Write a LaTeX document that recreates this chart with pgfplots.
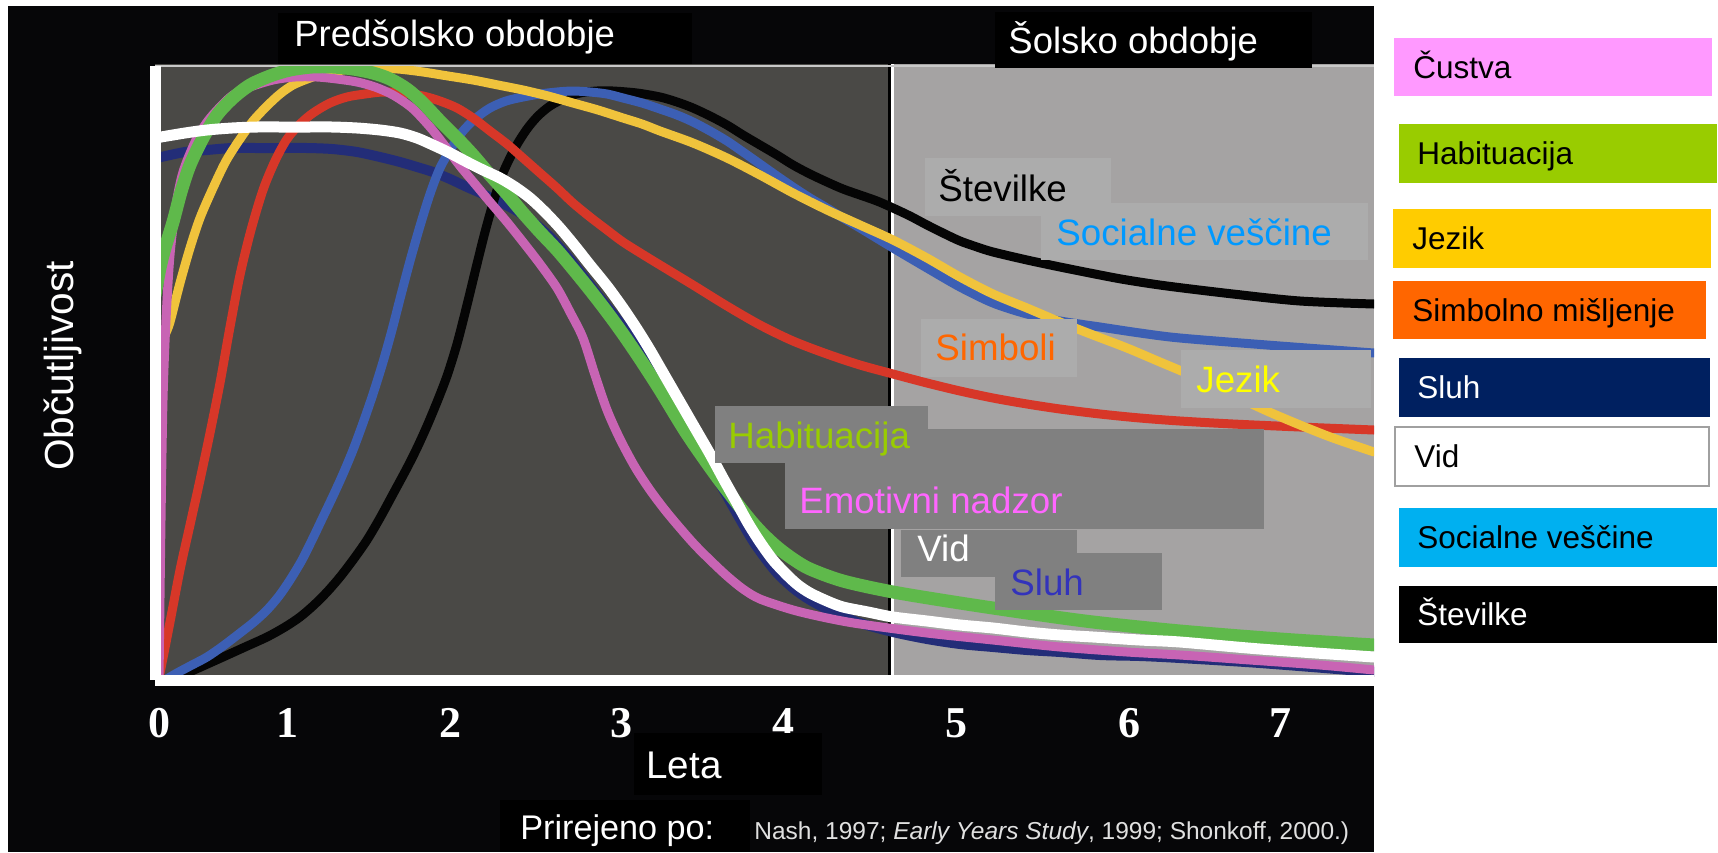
\documentclass[border=0pt]{standalone}
\usepackage{fontspec}
\setmainfont{Liberation Sans}
\newfontfamily\tickfont{Liberation Serif}
\usepackage{pgfplots}
\pgfplotsset{compat=1.18}
\newcommand{\fs}[1]{\fontsize{#1}{#1}\selectfont}
\definecolor{bgblack}{RGB}{6,6,8}
\definecolor{darkregion}{RGB}{74,73,70}
\definecolor{lightregion}{RGB}{165,163,163}
\definecolor{topline}{RGB}{200,200,200}
\definecolor{cpink}{RGB}{200,100,180}
\definecolor{cgreen}{RGB}{95,185,75}
\definecolor{cyellow}{RGB}{240,195,60}
\definecolor{cred}{RGB}{215,55,40}
\definecolor{cblue}{RGB}{60,95,180}
\definecolor{cnavy}{RGB}{35,45,120}
\definecolor{cblack}{RGB}{5,5,5}
\definecolor{boxlight}{RGB}{172,172,172}
\definecolor{boxdark}{RGB}{128,128,128}
\definecolor{lblblue}{RGB}{0,153,255}
\definecolor{lblorange}{RGB}{255,102,0}
\definecolor{lblyellow}{RGB}{255,255,0}
\definecolor{lblgreen}{RGB}{153,204,0}
\definecolor{lblpink}{RGB}{255,102,255}
\definecolor{lblsluh}{RGB}{51,51,187}
\definecolor{legpink}{RGB}{255,153,255}
\definecolor{leggreen}{RGB}{153,204,0}
\definecolor{legyellow}{RGB}{255,204,0}
\definecolor{legorange}{RGB}{255,102,0}
\definecolor{legnavy}{RGB}{0,32,96}
\definecolor{legcyan}{RGB}{0,176,240}
\definecolor{legborder}{RGB}{160,160,160}
\definecolor{citegray}{RGB}{224,224,224}
\begin{document}
\begin{tikzpicture}
\begin{scope}[x=0.5pt,y=-0.5pt]
\path[use as bounding box, fill=white] (0,0) rectangle (1718,852);
\fill[bgblack] (8,6) rectangle (1374,852);
\fill[darkregion] (155,64) rectangle (888,680);
\fill[black] (888,64) rectangle (891,680);
\fill[white] (891,64) rectangle (894,680);
\fill[lightregion] (894,64) rectangle (1374,680);
\draw[topline, line width=1pt] (155,66) -- (1374,66);
\end{scope}
\begin{axis}[
  at={(77.5pt,-340pt)}, anchor=south west,
  scale only axis, width=609.5pt, height=307pt,
  xmin=0, xmax=1219, ymin=0, ymax=614,
  axis on top,
  axis x line*=bottom, axis y line*=left,
  x axis line style={-, white, line width=5.5pt},
  y axis line style={-, white, line width=5.5pt},
  ytick=\empty,
  xtick={4.6,132,295.6,466.7,628.6,801.3,974.6,1125.8},
  xticklabels={0,1,2,3,4,5,6,7},
  major tick length=0pt,
  xticklabel style={anchor=center, yshift=-21.5pt, text=white, font={\tickfont\bfseries\fs{22}}},
  every axis plot/.append style={smooth, line cap=round, line join=round},
]
% Sluh (navy)
\addplot[cnavy, line width=5pt] coordinates {(0,522)(6,523)(30,528)(52,530)(77,532)(102,532)(127,532)(152,532)(177,531)(202,528)(225,523)(245,518)(262,513)(278,508)(295,501)(312,493)(328,486)(345,478)(362,469)(378,458)(395,443)(412,424)(428,404)(445,382)(462,361)(478,340)(492,320)(505,300)(522,272)(538,244)(555,214)(572,184)(585,161)(598,139)(610,122)(622,107)(638,92)(655,80)(680,67)(705,57)(738,48)(772,41)(805,36)(838,33)(872,30)(905,28)(945,25)(985,24)(1025,22)(1105,17)(1219,8)};
% Stevilke (black)
\addplot[cblack, line width=4.5pt] coordinates {(20,0)(28,5)(48,14)(68,23)(90,33)(112,43)(130,53)(145,63)(159,75)(172,88)(185,103)(198,120)(212,140)(225,162)(238,186)(252,212)(262,232)(272,254)(282,278)(292,304)(302,336)(312,375)(321,412)(330,448)(339,480)(348,507)(360,532)(372,551)(383,564)(395,574)(410,582)(425,587)(442,589)(458,589)(482,587)(505,583)(522,578)(538,572)(555,564)(572,555)(588,545)(605,535)(622,525)(638,515)(655,506)(672,498)(688,491)(705,485)(722,479)(738,472)(755,464)(772,455)(788,447)(805,439)(822,433)(838,428)(872,420)(905,413)(945,405)(972,400)(1012,394)(1078,386)(1145,379)(1219,376)};
% Socialne vescine (blue)
\addplot[cblue, line width=4.5pt] coordinates {(10,0)(22,7)(37,15)(52,23)(68,34)(85,47)(99,58)(112,70)(124,84)(135,100)(147,120)(158,142)(168,163)(178,184)(188,206)(198,230)(208,257)(218,286)(228,318)(237,350)(246,385)(255,419)(265,454)(275,486)(285,512)(297,533)(308,549)(321,562)(335,572)(351,579)(368,583)(385,586)(402,588)(418,589)(435,588)(452,586)(468,582)(487,577)(505,571)(522,565)(538,558)(555,549)(572,539)(588,528)(605,516)(622,504)(638,493)(655,482)(672,472)(688,462)(705,452)(738,432)(772,412)(805,393)(838,377)(872,366)(905,359)(945,353)(985,347)(1025,342)(1112,335)(1219,327)};
% Simbolno misljenje (red)
\addplot[cred, line width=4.5pt] coordinates {(3,0)(5,7)(15,58)(25,110)(35,155)(45,200)(55,247)(65,297)(75,353)(85,405)(96,450)(108,490)(120,519)(132,541)(145,556)(158,567)(175,577)(192,583)(210,586)(228,588)(248,587)(268,584)(285,579)(302,572)(318,562)(335,549)(352,536)(368,522)(385,507)(402,492)(418,477)(435,463)(452,450)(468,438)(487,426)(505,415)(538,395)(572,374)(605,355)(638,339)(672,326)(705,315)(738,306)(772,297)(805,289)(838,282)(872,276)(905,271)(945,266)(985,262)(1025,259)(1078,256)(1145,253)(1219,250)};
% Jezik (yellow)
\addplot[cyellow, line width=4.5pt] coordinates {(6,335)(10,345)(15,358)(25,397)(35,432)(45,462)(58,492)(71,519)(85,541)(98,559)(112,574)(125,586)(138,595)(155,602)(172,607)(195,611)(218,612)(243,611)(268,608)(293,604)(318,600)(343,595)(368,590)(393,584)(418,577)(443,570)(468,562)(487,556)(505,549)(538,537)(572,522)(605,505)(638,487)(672,470)(705,455)(738,440)(772,422)(805,403)(838,386)(872,372)(905,358)(938,345)(972,332)(1005,318)(1045,301)(1078,285)(1112,269)(1145,255)(1178,242)(1219,228)};
% Custva (pink)
\addplot[cpink, line width=4.5pt] coordinates {(4,0)(6,160)(8,280)(11,360)(15,425)(21,475)(28,508)(40,538)(52,558)(65,573)(78,585)(95,593)(118,600)(140,603)(162,603)(182,601)(202,598)(220,593)(238,585)(257,572)(275,553)(290,534)(305,514)(320,496)(335,478)(352,458)(368,438)(385,416)(402,392)(415,368)(428,342)(440,305)(452,270)(465,241)(480,213)(495,190)(510,170)(525,152)(540,135)(556,119)(572,104)(588,91)(605,81)(638,70)(672,62)(705,56)(772,47)(838,40)(905,33)(972,28)(1025,25)(1095,20)(1165,15)(1219,10)};
% Habituacija (green)
\addplot[cgreen, line width=6.5pt] coordinates {(0,385)(5,412)(10,432)(18,458)(26,488)(35,515)(48,542)(62,565)(78,582)(95,595)(115,604)(135,610)(157,613)(178,613)(198,611)(218,607)(235,601)(252,591)(268,577)(285,559)(302,542)(318,525)(335,505)(352,486)(368,467)(385,448)(402,430)(418,411)(435,390)(452,368)(468,346)(485,321)(505,290)(532,246)(562,203)(592,164)(607,147)(622,133)(638,121)(655,111)(688,99)(738,88)(805,77)(872,67)(938,58)(1025,49)(1125,41)(1219,35)};
% Vid (white)
\addplot[white, line width=5.5pt] coordinates {(0,542)(6,543)(30,547)(52,550)(77,552)(102,553)(127,553)(152,553)(177,553)(202,552)(225,550)(245,547)(262,542)(278,535)(295,527)(312,518)(328,510)(345,502)(360,493)(375,482)(390,468)(405,452)(420,434)(435,415)(452,394)(468,372)(482,351)(495,330)(510,304)(525,278)(540,252)(555,226)(568,202)(582,177)(593,157)(605,138)(618,120)(632,105)(643,95)(655,87)(672,79)(688,73)(713,68)(738,63)(772,59)(805,55)(838,52)(872,48)(905,45)(938,43)(985,40)(1025,38)(1105,31)(1219,23)};
\end{axis}
\begin{scope}[x=0.5pt,y=-0.5pt]
% in-plot labels
\fill[boxlight] (925,158) rectangle (1111,216);
\fill[boxlight] (1041,203) rectangle (1368,260);
\fill[boxlight] (921,319) rectangle (1077,377);
\fill[boxlight] (1181,350) rectangle (1371,408);
\fill[boxdark] (785,429) rectangle (1264,529);
\fill[boxdark] (715,406) rectangle (928,463);
\fill[boxdark] (901,530) rectangle (1077,577);
\fill[boxdark] (995,553) rectangle (1162,610);
\begin{scope}[every node/.style={inner sep=0pt, anchor=base west, font=\fs{18.35}}]
\node[text=black] at (938,201) {Številke};
\node[text=lblblue] at (1056,245) {Socialne veščine};
\node[text=lblorange] at (935,360) {Simboli};
\node[text=lblyellow] at (1196,392) {Jezik};
\node[text=lblgreen] at (728,448) {Habituacija};
\node[text=lblpink] at (799,513) {Emotivni nadzor};
\node[text=white] at (917,561) {Vid};
\node[text=lblsluh] at (1010,595) {Sluh};
\end{scope}
% titles
\fill[black] (278,13) rectangle (692,64);
\fill[black] (995,12) rectangle (1312,68);
\node[inner sep=0pt, anchor=base west, text=white, font=\fs{18.25}] at (294,46.7) {Predšolsko obdobje};
\node[inner sep=0pt, anchor=base west, text=white, font=\fs{18.25}] at (1008,53) {Šolsko obdobje};
% y label
\node[inner sep=0pt, anchor=base, rotate=90, text=white, font=\fs{20.3}] at (73,366) {Občutljivost};
% x label
\fill[black] (634,733) rectangle (822,795);
\node[inner sep=0pt, anchor=base west, text=white, font=\fs{19.3}] at (646,778) {Leta};
% source
\fill[black] (500,800) rectangle (750,852);
\node[inner sep=0pt, anchor=base west, text=white, font=\fs{17.1}] at (520,839) {Prirejeno po:};
\node[inner sep=0pt, anchor=base west, text=citegray, font=\fs{12.25}] at (754,839) {Nash, 1997; \textit{Early Years Study}, 1999; Shonkoff, 2000.)};
% legend
\fill[legpink] (1394,38) rectangle (1712,96);
\fill[leggreen] (1399,124) rectangle (1717,183);
\fill[legyellow] (1393,209) rectangle (1711,268);
\fill[legorange] (1393,281) rectangle (1706,339);
\fill[legnavy] (1399,358) rectangle (1710,417);
\draw[legborder, line width=1pt, fill=white] (1395,427) rectangle (1709,486);
\fill[legcyan] (1399,508) rectangle (1717,567);
\fill[black] (1399,586) rectangle (1717,643);
\begin{scope}[every node/.style={inner sep=0pt, anchor=base west, font=\fs{15.75}}]
\node[text=black] at (1413,78) {Čustva};
\node[text=black] at (1417,164.5) {Habituacija};
\node[text=black] at (1412,249.5) {Jezik};
\node[text=black] at (1412,321) {Simbolno mišljenje};
\node[text=white] at (1417,398.5) {Sluh};
\node[text=black] at (1414,467.5) {Vid};
\node[text=black] at (1417,548.5) {Socialne veščine};
\node[text=white] at (1417,625.5) {Številke};
\end{scope}
\end{scope}
\end{tikzpicture}
\end{document}
